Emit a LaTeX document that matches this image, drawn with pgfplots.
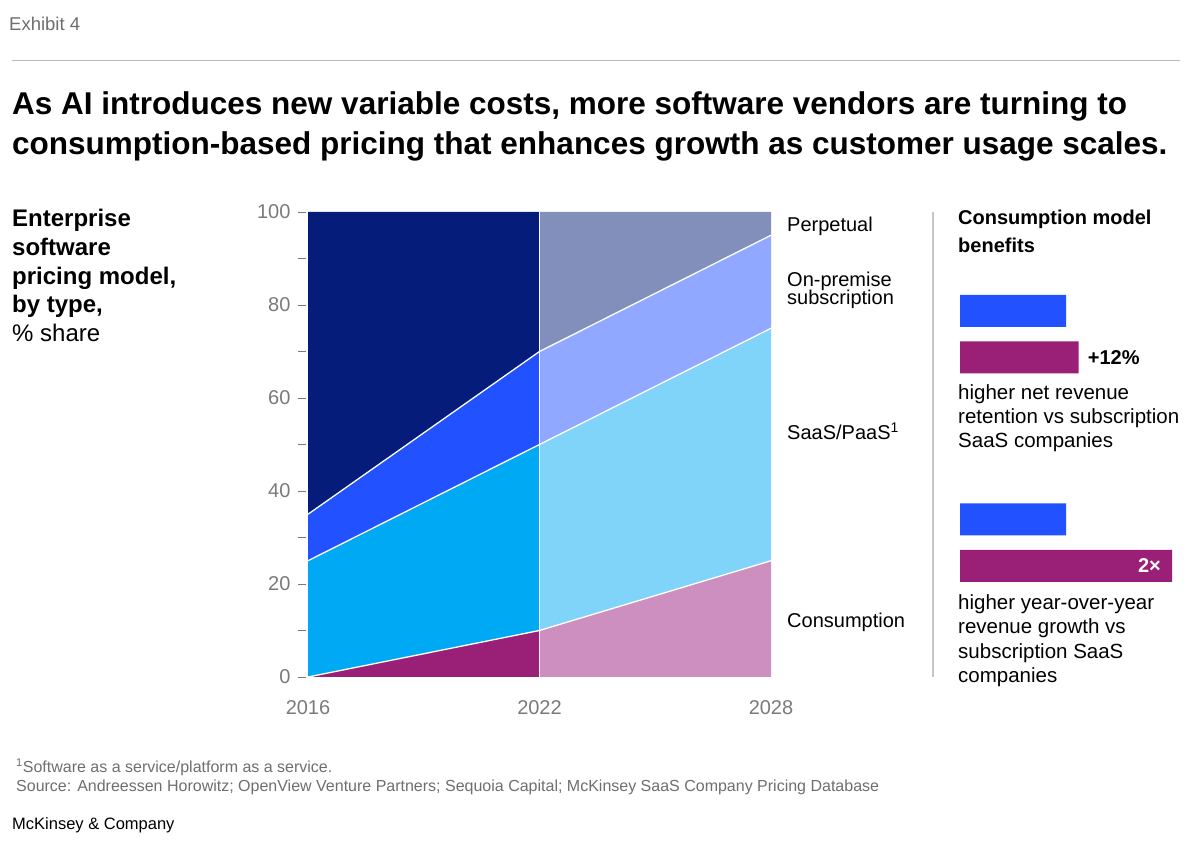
\documentclass[border=0pt]{standalone}
\usepackage{fontspec}
\setmainfont{Liberation Sans}
\usepackage{pgfplots}
\pgfplotsset{compat=1.18}
\definecolor{perpD}{HTML}{051C7A}
\definecolor{onpD}{HTML}{2251FF}
\definecolor{saasD}{HTML}{00A9F4}
\definecolor{consD}{HTML}{9A1F77}
\definecolor{perpL}{HTML}{828FBB}
\definecolor{onpL}{HTML}{90A8FF}
\definecolor{saasL}{HTML}{80D4F9}
\definecolor{consL}{HTML}{CC8FBF}
\definecolor{tickgray}{HTML}{7A7A7A}
\definecolor{notegray}{HTML}{6E6E6E}
\newcommand{\fs}[1]{\fontsize{#1}{#1}\selectfont}
\newcommand{\txt}[4]{\node[anchor=base west, inner sep=0pt, font=#3] at (#1,850-#2) {#4};}
\begin{document}
\begin{tikzpicture}[x=1pt,y=1pt]
\path[use as bounding box] (0,0) rectangle (1200,850);
% header
\txt{9}{31}{\fs{18.5}\color{notegray}}{Exhibit 4}
\draw[gray!55, line width=1pt] (12,789) -- (1180,789);
\txt{12}{115}{\fs{31.5}\bfseries}{As AI introduces new variable costs, more software vendors are turning to}
\txt{12}{155}{\fs{31.5}\bfseries}{consumption-based pricing that enhances growth as customer usage scales.}
% left title
\txt{12}{227}{\fs{24}\bfseries}{Enterprise}
\txt{12}{256}{\fs{24}\bfseries}{software}
\txt{12}{285}{\fs{24}\bfseries}{pricing model,}
\txt{12}{313}{\fs{24}\bfseries}{by type,}
\txt{12}{342}{\fs{24}}{\% share}
% area chart
\begin{axis}[at={(308pt,173pt)}, anchor=south west, scale only axis,
  width=463pt, height=465pt, xmin=2016, xmax=2028, ymin=0, ymax=100,
  axis line style={draw=none}, clip=false,
  ytick={0,20,...,100}, minor ytick={10,30,...,90},
  xtick={2016,2022,2028}, xticklabels={2016,2022,2028},
  ytick pos=left, xtick pos=bottom,
  tick align=outside, major tick length=8pt, minor tick length=8pt,
  y tick style={draw=tickgray, line width=0.8pt, xshift=-2pt},
  x tick style={draw=none},
  tick label style={font=\fs{20}, text=tickgray},
  xticklabel style={yshift=-12pt},
  yticklabel style={xshift=-6pt},
  /pgf/number format/assume math mode=true]
% left segment
\addplot[fill=consD, draw=none] coordinates {(2016,0) (2022,10) (2022,0) (2016,0)};
\addplot[fill=saasD, draw=none] coordinates {(2016,0) (2022,10) (2022,50) (2016,25) (2016,0)};
\addplot[fill=onpD, draw=none] coordinates {(2016,25) (2022,50) (2022,70) (2016,35) (2016,25)};
\addplot[fill=perpD, draw=none] coordinates {(2016,35) (2022,70) (2022,100) (2016,100) (2016,35)};
% right segment
\addplot[fill=consL, draw=none] coordinates {(2022,0) (2022,10) (2028,25) (2028,0) (2022,0)};
\addplot[fill=saasL, draw=none] coordinates {(2022,10) (2022,50) (2028,75) (2028,25) (2022,10)};
\addplot[fill=onpL, draw=none] coordinates {(2022,50) (2022,70) (2028,95) (2028,75) (2022,50)};
\addplot[fill=perpL, draw=none] coordinates {(2022,70) (2022,100) (2028,100) (2028,95) (2022,70)};
% white boundaries
\addplot[white, line width=1.3pt] coordinates {(2016,0) (2022,10) (2028,25)};
\addplot[white, line width=1.3pt] coordinates {(2016,25) (2022,50) (2028,75)};
\addplot[white, line width=1.3pt] coordinates {(2016,35) (2022,70) (2028,95)};
\addplot[white, line width=1.3pt] coordinates {(2022,0) (2022,100)};
\end{axis}
% series labels
\txt{787}{232}{\fs{20}}{Perpetual}
\txt{787}{287}{\fs{20}}{On-premise}
\txt{787}{305}{\fs{20}}{subscription}
\txt{787}{440}{\fs{20}}{SaaS/PaaS\textsuperscript{1}}
\txt{787}{628}{\fs{20}}{Consumption}
% separator
\draw[gray!45, line width=1.2pt] (933,850-212) -- (933,850-677);
% right panel
\txt{958}{225}{\fs{20}\bfseries}{Consumption model}
\txt{958}{253}{\fs{20}\bfseries}{benefits}
\begin{axis}[at={(960pt,0pt)}, anchor=south west, scale only axis,
  width=212pt, height=850pt, xmin=0, xmax=2, ymin=0, ymax=850,
  hide axis, clip=false, xbar, bar width=32pt]
\addplot[fill=onpD, draw=none, bar shift=0pt] coordinates {(1,539) (1,330.5)};
\addplot[fill=consD, draw=none, bar shift=0pt] coordinates {(1.12,492.5) (2,284)};
\node[anchor=west, font=\fs{20}\bfseries, inner sep=0pt, xshift=9pt] at (axis cs:1.12,492.5) {+12\%};
\node[anchor=east, font=\fs{20}\bfseries, text=white, inner sep=0pt, xshift=-11pt] at (axis cs:2,284) {2×};
\end{axis}
\txt{958}{400}{\fs{20.5}}{higher net revenue}
\txt{958}{424}{\fs{20.5}}{retention vs subscription}
\txt{958}{448}{\fs{20.5}}{SaaS companies}
\txt{958}{610}{\fs{20.5}}{higher year-over-year}
\txt{958}{634}{\fs{20.5}}{revenue growth vs}
\txt{958}{659}{\fs{20.5}}{subscription SaaS}
\txt{958}{683}{\fs{20.5}}{companies}
% footer
\txt{16}{773}{\fs{16}\color{notegray}}{\textsuperscript{1}Software as a service/platform as a service.}
\txt{16}{792}{\fs{16}\color{notegray}}{Source: Andreessen Horowitz; OpenView Venture Partners; Sequoia Capital; McKinsey SaaS Company Pricing Database}
\txt{12}{830}{\fs{16.5}}{McKinsey \& Company}
\end{tikzpicture}
\end{document}
